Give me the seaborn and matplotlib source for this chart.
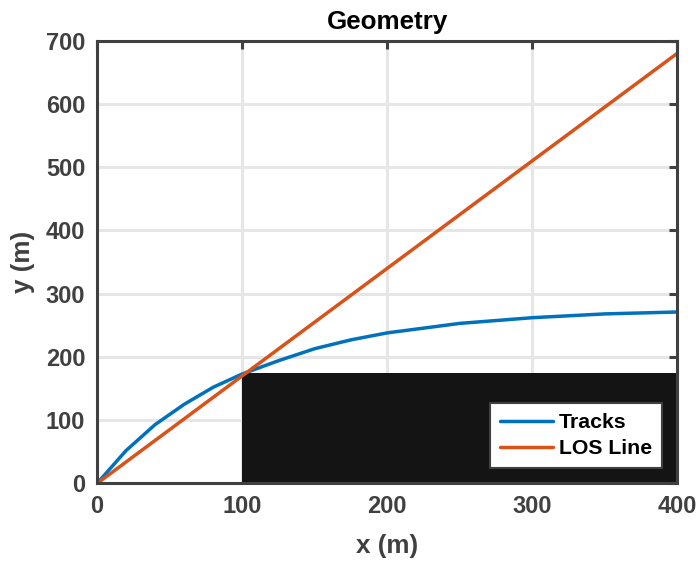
import matplotlib
matplotlib.use("Agg")
import matplotlib.pyplot as plt
import seaborn as sns
import pandas as pd

# Track samples (m)
track_x = [0, 20, 40, 60, 80, 100, 125, 150, 175, 200, 250, 300, 350, 400]
track_y = [0, 52, 93, 125, 152, 173, 194, 213, 227, 238, 253, 262, 268, 271]

# Line-of-sight ray (m)
los_x = [0, 400]
los_y = [0, 680]

# Obstacle block: x extent and top height (m)
obstacle_x = [100, 400]
obstacle_top = 174

x_ticks = [0, 100, 200, 300, 400]
y_ticks = [0, 100, 200, 300, 400, 500, 600, 700]

sns.set_style("whitegrid")
plt.rcParams["font.family"] = ["Liberation Sans", "DejaVu Sans"]
plt.rcParams["font.weight"] = "bold"

axis_gray = "#404040"
blue = "#0072BD"
orange = "#D95319"

fig = plt.figure(figsize=(6.99, 5.62), dpi=100)
ax = fig.add_axes([0.1388, 0.1397, 0.9692 - 0.1388, 0.9279 - 0.1397])

df = pd.concat([
    pd.DataFrame({"x": track_x, "y": track_y, "series": "Tracks"}),
    pd.DataFrame({"x": los_x, "y": los_y, "series": "LOS Line"}),
], ignore_index=True)

ax.fill_between(obstacle_x, 0, obstacle_top, color="#141414", linewidth=0, zorder=2)

sns.lineplot(data=df, x="x", y="y", hue="series", palette=[blue, orange],
             sort=False, estimator=None, linewidth=2.5, ax=ax, zorder=3)

ax.set_xlim(0, 400)
ax.set_ylim(0, 700)
ax.set_xticks(x_ticks)
ax.set_yticks(y_ticks)

ax.grid(True, color="#e6e6e6", linewidth=2.2, zorder=0)
ax.set_axisbelow(True)

for side in ["left", "right", "top", "bottom"]:
    ax.spines[side].set_visible(True)
    ax.spines[side].set_color(axis_gray)
    ax.spines[side].set_linewidth(2.2)
    ax.spines[side].set_zorder(5)

ax.tick_params(axis="both", direction="in", length=6, width=2.2,
               colors=axis_gray, labelsize=17, top=True, right=True,
               labelcolor=axis_gray, pad=8.5)
for lbl in ax.get_xticklabels() + ax.get_yticklabels():
    lbl.set_fontweight("bold")

ax.set_xlabel("x (m)", fontsize=18.7, fontweight="bold", color=axis_gray, labelpad=11)
ax.set_ylabel("y (m)", fontsize=18.7, fontweight="bold", color=axis_gray, labelpad=8)
ax.set_title("Geometry", fontsize=18.7, fontweight="bold", color="black", pad=8)

leg = ax.legend(loc="lower right", fontsize=15.3, frameon=True, fancybox=False,
                framealpha=1, edgecolor=axis_gray, handlelength=2.5,
                handletextpad=0.3, borderpad=0.45, labelspacing=0.35,
                borderaxespad=0, bbox_to_anchor=(0.973, 0.035))
leg.get_frame().set_linewidth(1.5)
leg.set_zorder(6)
for t in leg.get_texts():
    t.set_fontweight("bold")
    t.set_color("black")

fig.savefig("out.png", dpi=100)
